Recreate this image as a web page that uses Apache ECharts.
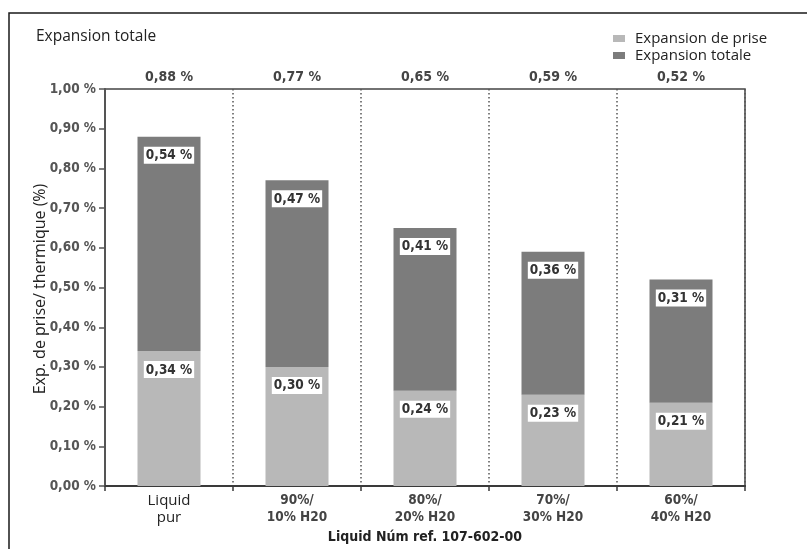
<!DOCTYPE html>
<html>
<head>
<meta charset="utf-8">
<script src="https://cdn.jsdelivr.net/npm/echarts@6/dist/echarts.min.js"></script>
<style>
  html, body { margin: 0; padding: 0; background: #fff; }
  #chart { width: 807px; height: 549px; }
</style>
</head>
<body>
<div id="chart"></div>
<script>
// Mixtures of liquid and water
const categories = ['Liquid\npur', '90%/\n10% H20', '80%/\n20% H20', '70%/\n30% H20', '60%/\n40% H20'];
// Setting expansion (%), lower part of each stack
const expansionPrise = [0.34, 0.30, 0.24, 0.23, 0.21];
// Thermal expansion (%), upper part of each stack
const expansionThermique = [0.54, 0.47, 0.41, 0.36, 0.31];
// Y axis ticks
const yTicks = { min: 0, max: 1, interval: 0.1 };

const totals = expansionPrise.map((v, i) => Math.round((v + expansionThermique[i]) * 100) / 100);
const pct = v => v.toFixed(2).replace('.', ',') + ' %';

const condensed = "'Liberation Sans Narrow', 'DejaVu Sans Condensed', 'Open Sans', sans-serif";
const regular = "'Open Sans', 'Noto Sans', sans-serif";

const barLabel = {
  show: true,
  position: 'insideTop',
  distance: 10,
  formatter: p => pct(p.value),
  backgroundColor: '#ffffff',
  padding: [2, 2, 1, 2],
  color: '#333',
  fontFamily: condensed,
  fontWeight: 'bold',
  fontSize: 13.5
};

const chart = echarts.init(document.getElementById('chart'), null, { renderer: 'canvas' });
chart.setOption({
  animation: false,
  backgroundColor: '#fff',
  title: {
    text: 'Expansion totale',
    left: 31, top: 24,
    textStyle: { fontFamily: regular, fontWeight: 'normal', fontSize: 15.5, color: '#222' }
  },
  legend: {
    orient: 'vertical',
    left: 608, top: 26,
    itemWidth: 12, itemHeight: 7,
    itemGap: 2,
    icon: 'rect',
    textStyle: { fontFamily: regular, fontSize: 15, color: '#222', padding: [0, 0, 0, 5] },
    data: ['Expansion de prise', 'Expansion totale']
  },
  graphic: [{
    type: 'rect',
    shape: { x: 9, y: 13, width: 900, height: 700 },
    style: { fill: 'none', stroke: '#1a1a1a', lineWidth: 1.5 },
    silent: true, z: 100
  }, {
    // y axis title
    type: 'text',
    x: 40, y: 289,
    rotation: Math.PI / 2,
    style: {
      text: 'Exp. de prise/ thermique (%)',
      fontFamily: regular, fontSize: 16, fill: '#222',
      align: 'center', verticalAlign: 'middle'
    },
    silent: true
  }],
  grid: {
    left: 105, right: 62, top: 89, bottom: 61,
    show: true, borderColor: '#444', borderWidth: 1.5, backgroundColor: 'transparent'
  },
  xAxis: [{
    type: 'category',
    data: categories,
    position: 'bottom',
    axisLine: { lineStyle: { color: '#3a3a3a', width: 2 } },
    axisTick: { show: true, length: 5, lineStyle: { color: '#3a3a3a', width: 1.5 } },
    splitLine: { show: true, lineStyle: { color: '#555', type: [1.5, 2.5], width: 1.5 } },
    axisLabel: {
      margin: 6,
      interval: 0,
      formatter: (v, i) => {
        const tag = i === 0 ? 'r' : 'b';
        return v.split('\n').map(s => '{' + tag + '|' + s + '}').join('\n');
      },
      rich: {
        r: { fontFamily: regular, fontSize: 15, color: '#222', lineHeight: 17 },
        b: { fontFamily: condensed, fontSize: 13.5, fontWeight: 'bold', color: '#444', lineHeight: 17 }
      }
    },
    name: 'Liquid Núm ref. 107-602-00',
    nameLocation: 'middle',
    nameGap: 42,
    nameTextStyle: { fontFamily: condensed, fontWeight: 'bold', fontSize: 14, color: '#222' }
  }, {
    type: 'category',
    data: totals.map(pct),
    position: 'top',
    axisLine: { show: false },
    axisTick: { show: false },
    axisLabel: { margin: 5, fontFamily: condensed, fontWeight: 'bold', fontSize: 14, color: '#444' }
  }],
  yAxis: {
    type: 'value',
    min: yTicks.min, max: yTicks.max, interval: yTicks.interval,
    axisLine: { show: true, lineStyle: { color: '#555', width: 2 } },
    axisTick: { show: true, length: 6, lineStyle: { color: '#555', width: 1.5 } },
    splitLine: { show: false },
    axisLabel: {
      margin: 9,
      formatter: v => pct(v),
      fontFamily: condensed, fontWeight: 'bold', fontSize: 13.5, color: '#555'
    }
  },
  series: [{
    name: 'Expansion de prise',
    type: 'bar',
    stack: 'exp',
    barWidth: 63,
    data: expansionPrise,
    itemStyle: { color: '#b8b8b8' },
    label: barLabel
  }, {
    name: 'Expansion totale',
    type: 'bar',
    stack: 'exp',
    barWidth: 63,
    data: expansionThermique,
    itemStyle: { color: '#7c7c7c' },
    label: barLabel
  }]
});
</script>
</body>
</html>
